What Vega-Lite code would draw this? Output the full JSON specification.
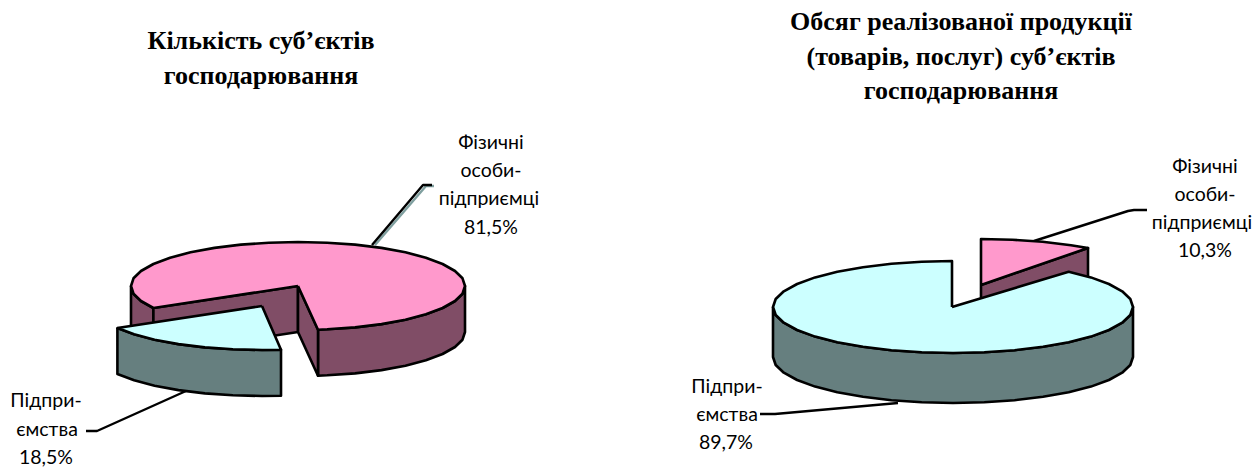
{"$schema":"https://vega.github.io/schema/vega-lite/v6.json","width":1257,"height":468,"padding":0,"autosize":{"type":"fit","contains":"padding"},"background":"white","view":{"stroke":null},"config":{"axis":{"disable":true}},
"datasets":{
"leaders":[
{"id":"l1s","n":1,"x":375,"y":245,"c":"#7f9f9f"},{"id":"l1s","n":2,"x":426,"y":186,"c":"#7f9f9f"},{"id":"l1s","n":3,"x":434,"y":186,"c":"#7f9f9f"},
{"id":"l1","n":1,"x":372,"y":245,"c":"#000000"},{"id":"l1","n":2,"x":423,"y":185,"c":"#000000"},{"id":"l1","n":3,"x":432,"y":185,"c":"#000000"},
{"id":"l2","n":1,"x":186,"y":391,"c":"#000000"},{"id":"l2","n":2,"x":97,"y":431,"c":"#000000"},{"id":"l2","n":3,"x":86,"y":431,"c":"#000000"},
{"id":"l3","n":1,"x":1034,"y":241,"c":"#000000"},{"id":"l3","n":2,"x":1128,"y":211,"c":"#000000"},{"id":"l3","n":3,"x":1134,"y":210,"c":"#000000"},{"id":"l3","n":4,"x":1147,"y":210,"c":"#000000"},
{"id":"l4","n":1,"x":898,"y":403,"c":"#000000"},{"id":"l4","n":2,"x":775,"y":414,"c":"#000000"},{"id":"l4","n":3,"x":760,"y":414,"c":"#000000"}
],
"labels":[
{"t":"Фізичні","x":491,"y":143},{"t":"особи-","x":491,"y":171},{"t":"підприємці","x":489,"y":199},{"t":"81,5%","x":491,"y":228},
{"t":"Підпри-","x":46,"y":401},{"t":"ємства","x":47,"y":430},{"t":"18,5%","x":46,"y":458},
{"t":"Фізичні","x":1205,"y":167},{"t":"особи-","x":1205,"y":195},{"t":"підприємці","x":1202,"y":223},{"t":"10,3%","x":1205,"y":251},
{"t":"Підпри-","x":727,"y":387},{"t":"ємства","x":727,"y":415},{"t":"89,7%","x":726,"y":443}
],
"titles":[
{"t":"Кількість суб’єктів","x":261,"y":41},{"t":"господарювання","x":261,"y":76},
{"t":"Обсяг реалізованої продукції","x":961,"y":22},{"t":"(товарів, послуг) суб’єктів","x":961,"y":57},{"t":"господарювання","x":961,"y":91}
],
"faces":[
{"f":"a1","p":"side pink","n":1,"x":318,"y":329.7},{"f":"a1","p":"side pink","n":2,"x":327.1,"y":329.3},{"f":"a1","p":"side pink","n":3,"x":355.1,"y":327.4},{"f":"a1","p":"side pink","n":4,"x":381.5,"y":324.1},{"f":"a1","p":"side pink","n":5,"x":405.4,"y":319.7},{"f":"a1","p":"side pink","n":6,"x":425.9,"y":314.3},{"f":"a1","p":"side pink","n":7,"x":442.6,"y":308},{"f":"a1","p":"side pink","n":8,"x":455,"y":301},{"f":"a1","p":"side pink","n":9,"x":462.5,"y":293.7},{"f":"a1","p":"side pink","n":10,"x":465,"y":286},{"f":"a1","p":"side pink","n":11,"x":465,"y":332},{"f":"a1","p":"side pink","n":12,"x":462.5,"y":339.7},{"f":"a1","p":"side pink","n":13,"x":455,"y":347},{"f":"a1","p":"side pink","n":14,"x":442.6,"y":354},{"f":"a1","p":"side pink","n":15,"x":425.9,"y":360.3},{"f":"a1","p":"side pink","n":16,"x":405.4,"y":365.7},{"f":"a1","p":"side pink","n":17,"x":381.5,"y":370.1},{"f":"a1","p":"side pink","n":18,"x":355.1,"y":373.4},{"f":"a1","p":"side pink","n":19,"x":327.1,"y":375.3},{"f":"a1","p":"side pink","n":20,"x":318,"y":375.7},{"f":"a1","p":"side pink","n":21,"x":318,"y":329.7},
{"f":"a2","p":"side pink","n":1,"x":131,"y":286},{"f":"a2","p":"side pink","n":2,"x":133.5,"y":293.7},{"f":"a2","p":"side pink","n":3,"x":141,"y":301},{"f":"a2","p":"side pink","n":4,"x":153.4,"y":308},{"f":"a2","p":"side pink","n":5,"x":153.4,"y":354},{"f":"a2","p":"side pink","n":6,"x":141,"y":347},{"f":"a2","p":"side pink","n":7,"x":133.5,"y":339.7},{"f":"a2","p":"side pink","n":8,"x":131,"y":332},{"f":"a2","p":"side pink","n":9,"x":131,"y":286},
{"f":"a3","p":"side pink","n":1,"x":153.4,"y":308},{"f":"a3","p":"side pink","n":2,"x":298,"y":286},{"f":"a3","p":"side pink","n":3,"x":298,"y":332},{"f":"a3","p":"side pink","n":4,"x":153.4,"y":354},{"f":"a3","p":"side pink","n":5,"x":153.4,"y":308},
{"f":"a4","p":"side pink","n":1,"x":298,"y":286},{"f":"a4","p":"side pink","n":2,"x":318,"y":329.7},{"f":"a4","p":"side pink","n":3,"x":318,"y":375.7},{"f":"a4","p":"side pink","n":4,"x":298,"y":332},{"f":"a4","p":"side pink","n":5,"x":298,"y":286},
{"f":"a5","p":"top pink","n":1,"x":298,"y":286},{"f":"a5","p":"top pink","n":2,"x":318,"y":329.7},{"f":"a5","p":"top pink","n":3,"x":327.1,"y":329.3},{"f":"a5","p":"top pink","n":4,"x":355.1,"y":327.4},{"f":"a5","p":"top pink","n":5,"x":381.5,"y":324.1},{"f":"a5","p":"top pink","n":6,"x":405.4,"y":319.7},{"f":"a5","p":"top pink","n":7,"x":425.9,"y":314.3},{"f":"a5","p":"top pink","n":8,"x":442.6,"y":308},{"f":"a5","p":"top pink","n":9,"x":455,"y":301},{"f":"a5","p":"top pink","n":10,"x":462.5,"y":293.7},{"f":"a5","p":"top pink","n":11,"x":465,"y":286},{"f":"a5","p":"top pink","n":12,"x":462.5,"y":278.3},{"f":"a5","p":"top pink","n":13,"x":455,"y":271},{"f":"a5","p":"top pink","n":14,"x":442.6,"y":264},{"f":"a5","p":"top pink","n":15,"x":425.9,"y":257.7},{"f":"a5","p":"top pink","n":16,"x":405.4,"y":252.3},{"f":"a5","p":"top pink","n":17,"x":381.5,"y":247.9},{"f":"a5","p":"top pink","n":18,"x":355.1,"y":244.6},{"f":"a5","p":"top pink","n":19,"x":327.1,"y":242.7},{"f":"a5","p":"top pink","n":20,"x":298,"y":242},{"f":"a5","p":"top pink","n":21,"x":268.9,"y":242.7},{"f":"a5","p":"top pink","n":22,"x":240.9,"y":244.6},{"f":"a5","p":"top pink","n":23,"x":214.5,"y":247.9},{"f":"a5","p":"top pink","n":24,"x":190.6,"y":252.3},{"f":"a5","p":"top pink","n":25,"x":170.1,"y":257.7},{"f":"a5","p":"top pink","n":26,"x":153.4,"y":264},{"f":"a5","p":"top pink","n":27,"x":141,"y":271},{"f":"a5","p":"top pink","n":28,"x":133.5,"y":278.3},{"f":"a5","p":"top pink","n":29,"x":131,"y":286},{"f":"a5","p":"top pink","n":30,"x":133.5,"y":293.7},{"f":"a5","p":"top pink","n":31,"x":141,"y":301},{"f":"a5","p":"top pink","n":32,"x":153.4,"y":308},{"f":"a5","p":"top pink","n":33,"x":298,"y":286},
{"f":"a6","p":"side blue","n":1,"x":117.4,"y":328},{"f":"a6","p":"side blue","n":2,"x":134.1,"y":334.3},{"f":"a6","p":"side blue","n":3,"x":154.6,"y":339.7},{"f":"a6","p":"side blue","n":4,"x":178.5,"y":344.1},{"f":"a6","p":"side blue","n":5,"x":204.9,"y":347.4},{"f":"a6","p":"side blue","n":6,"x":232.9,"y":349.3},{"f":"a6","p":"side blue","n":7,"x":262,"y":350},{"f":"a6","p":"side blue","n":8,"x":281,"y":349.7},{"f":"a6","p":"side blue","n":9,"x":281,"y":395.7},{"f":"a6","p":"side blue","n":10,"x":262,"y":396},{"f":"a6","p":"side blue","n":11,"x":232.9,"y":395.3},{"f":"a6","p":"side blue","n":12,"x":204.9,"y":393.4},{"f":"a6","p":"side blue","n":13,"x":178.5,"y":390.1},{"f":"a6","p":"side blue","n":14,"x":154.6,"y":385.7},{"f":"a6","p":"side blue","n":15,"x":134.1,"y":380.3},{"f":"a6","p":"side blue","n":16,"x":117.4,"y":374},{"f":"a6","p":"side blue","n":17,"x":117.4,"y":328},
{"f":"a7","p":"top blue","n":1,"x":262,"y":306},{"f":"a7","p":"top blue","n":2,"x":117.4,"y":328},{"f":"a7","p":"top blue","n":3,"x":134.1,"y":334.3},{"f":"a7","p":"top blue","n":4,"x":154.6,"y":339.7},{"f":"a7","p":"top blue","n":5,"x":178.5,"y":344.1},{"f":"a7","p":"top blue","n":6,"x":204.9,"y":347.4},{"f":"a7","p":"top blue","n":7,"x":232.9,"y":349.3},{"f":"a7","p":"top blue","n":8,"x":262,"y":350},{"f":"a7","p":"top blue","n":9,"x":281,"y":349.7},{"f":"a7","p":"top blue","n":10,"x":262,"y":306},
{"f":"b1","p":"side pink","n":1,"x":981,"y":285},{"f":"b1","p":"side pink","n":2,"x":1088,"y":248},{"f":"b1","p":"side pink","n":3,"x":1088,"y":298},{"f":"b1","p":"side pink","n":4,"x":981,"y":335},{"f":"b1","p":"side pink","n":5,"x":981,"y":285},
{"f":"b2","p":"top pink","n":1,"x":981,"y":285},{"f":"b2","p":"top pink","n":2,"x":981,"y":239},{"f":"b2","p":"top pink","n":3,"x":1012.3,"y":239.7},{"f":"b2","p":"top pink","n":4,"x":1042.6,"y":241.8},{"f":"b2","p":"top pink","n":5,"x":1071,"y":245.2},{"f":"b2","p":"top pink","n":6,"x":1088,"y":248},{"f":"b2","p":"top pink","n":7,"x":981,"y":285},
{"f":"b3","p":"side blue","n":1,"x":773,"y":307},{"f":"b3","p":"side blue","n":2,"x":775.7,"y":315},{"f":"b3","p":"side blue","n":3,"x":783.8,"y":322.7},{"f":"b3","p":"side blue","n":4,"x":797.1,"y":330},{"f":"b3","p":"side blue","n":5,"x":815.1,"y":336.6},{"f":"b3","p":"side blue","n":6,"x":837.3,"y":342.2},{"f":"b3","p":"side blue","n":7,"x":863,"y":346.8},{"f":"b3","p":"side blue","n":8,"x":891.4,"y":350.2},{"f":"b3","p":"side blue","n":9,"x":921.7,"y":352.3},{"f":"b3","p":"side blue","n":10,"x":953,"y":353},{"f":"b3","p":"side blue","n":11,"x":984.3,"y":352.3},{"f":"b3","p":"side blue","n":12,"x":1014.6,"y":350.2},{"f":"b3","p":"side blue","n":13,"x":1043,"y":346.8},{"f":"b3","p":"side blue","n":14,"x":1068.7,"y":342.2},{"f":"b3","p":"side blue","n":15,"x":1090.9,"y":336.6},{"f":"b3","p":"side blue","n":16,"x":1108.9,"y":330},{"f":"b3","p":"side blue","n":17,"x":1122.2,"y":322.7},{"f":"b3","p":"side blue","n":18,"x":1130.3,"y":315},{"f":"b3","p":"side blue","n":19,"x":1133,"y":307},{"f":"b3","p":"side blue","n":20,"x":1133,"y":357},{"f":"b3","p":"side blue","n":21,"x":1130.3,"y":365},{"f":"b3","p":"side blue","n":22,"x":1122.2,"y":372.7},{"f":"b3","p":"side blue","n":23,"x":1108.9,"y":380},{"f":"b3","p":"side blue","n":24,"x":1090.9,"y":386.6},{"f":"b3","p":"side blue","n":25,"x":1068.7,"y":392.2},{"f":"b3","p":"side blue","n":26,"x":1043,"y":396.8},{"f":"b3","p":"side blue","n":27,"x":1014.6,"y":400.2},{"f":"b3","p":"side blue","n":28,"x":984.3,"y":402.3},{"f":"b3","p":"side blue","n":29,"x":953,"y":403},{"f":"b3","p":"side blue","n":30,"x":921.7,"y":402.3},{"f":"b3","p":"side blue","n":31,"x":891.4,"y":400.2},{"f":"b3","p":"side blue","n":32,"x":863,"y":396.8},{"f":"b3","p":"side blue","n":33,"x":837.3,"y":392.2},{"f":"b3","p":"side blue","n":34,"x":815.1,"y":386.6},{"f":"b3","p":"side blue","n":35,"x":797.1,"y":380},{"f":"b3","p":"side blue","n":36,"x":783.8,"y":372.7},{"f":"b3","p":"side blue","n":37,"x":775.7,"y":365},{"f":"b3","p":"side blue","n":38,"x":773,"y":357},{"f":"b3","p":"side blue","n":39,"x":773,"y":307},
{"f":"b4","p":"top blue","n":1,"x":952,"y":307},{"f":"b4","p":"top blue","n":2,"x":952,"y":261},{"f":"b4","p":"top blue","n":3,"x":921.7,"y":261.7},{"f":"b4","p":"top blue","n":4,"x":891.4,"y":263.8},{"f":"b4","p":"top blue","n":5,"x":863,"y":267.2},{"f":"b4","p":"top blue","n":6,"x":837.3,"y":271.8},{"f":"b4","p":"top blue","n":7,"x":815.1,"y":277.4},{"f":"b4","p":"top blue","n":8,"x":797.1,"y":284},{"f":"b4","p":"top blue","n":9,"x":783.8,"y":291.3},{"f":"b4","p":"top blue","n":10,"x":775.7,"y":299},{"f":"b4","p":"top blue","n":11,"x":773,"y":307},{"f":"b4","p":"top blue","n":12,"x":775.7,"y":315},{"f":"b4","p":"top blue","n":13,"x":783.8,"y":322.7},{"f":"b4","p":"top blue","n":14,"x":797.1,"y":330},{"f":"b4","p":"top blue","n":15,"x":815.1,"y":336.6},{"f":"b4","p":"top blue","n":16,"x":837.3,"y":342.2},{"f":"b4","p":"top blue","n":17,"x":863,"y":346.8},{"f":"b4","p":"top blue","n":18,"x":891.4,"y":350.2},{"f":"b4","p":"top blue","n":19,"x":921.7,"y":352.3},{"f":"b4","p":"top blue","n":20,"x":953,"y":353},{"f":"b4","p":"top blue","n":21,"x":984.3,"y":352.3},{"f":"b4","p":"top blue","n":22,"x":1014.6,"y":350.2},{"f":"b4","p":"top blue","n":23,"x":1043,"y":346.8},{"f":"b4","p":"top blue","n":24,"x":1068.7,"y":342.2},{"f":"b4","p":"top blue","n":25,"x":1090.9,"y":336.6},{"f":"b4","p":"top blue","n":26,"x":1108.9,"y":330},{"f":"b4","p":"top blue","n":27,"x":1122.2,"y":322.7},{"f":"b4","p":"top blue","n":28,"x":1130.3,"y":315},{"f":"b4","p":"top blue","n":29,"x":1133,"y":307},{"f":"b4","p":"top blue","n":30,"x":1130.3,"y":299},{"f":"b4","p":"top blue","n":31,"x":1122.2,"y":291.3},{"f":"b4","p":"top blue","n":32,"x":1108.9,"y":284},{"f":"b4","p":"top blue","n":33,"x":1090.9,"y":277.4},{"f":"b4","p":"top blue","n":34,"x":1068.7,"y":271.8},{"f":"b4","p":"top blue","n":35,"x":952,"y":307}
]
},
"encoding":{
"x":{"field":"x","type":"quantitative","scale":{"domain":[0,1257],"nice":false,"zero":false},"axis":null},
"y":{"field":"y","type":"quantitative","scale":{"domain":[468,0],"nice":false,"zero":false},"axis":null}
},
"layer":[
{"data":{"name":"leaders"},"mark":{"type":"line","strokeWidth":2.4,"strokeJoin":"round","clip":false},"encoding":{"detail":{"field":"id"},"order":{"field":"n","type":"quantitative"},"stroke":{"field":"c","type":"nominal","scale":null}}},
{"data":{"name":"faces"},"mark":{"type":"line","stroke":"#000000","strokeWidth":2.6,"strokeJoin":"round"},"encoding":{"detail":{"field":"f"},"order":{"field":"n","type":"quantitative"},"fill":{"field":"p","type":"nominal","legend":null,"scale":{"domain":["side pink","top pink","side blue","top blue"],"range":["#804D66","#FF99CC","#667F7F","#CCFFFF"]}}}},
{"data":{"name":"labels"},"mark":{"type":"text","font":"Lato","fontSize":19.5,"color":"#000000","align":"center","baseline":"middle"},"encoding":{"text":{"field":"t"}}},
{"data":{"name":"titles"},"mark":{"type":"text","font":"Liberation Serif","fontWeight":"bold","fontSize":26,"color":"#000000","align":"center","baseline":"middle"},"encoding":{"text":{"field":"t"}}}
]}
